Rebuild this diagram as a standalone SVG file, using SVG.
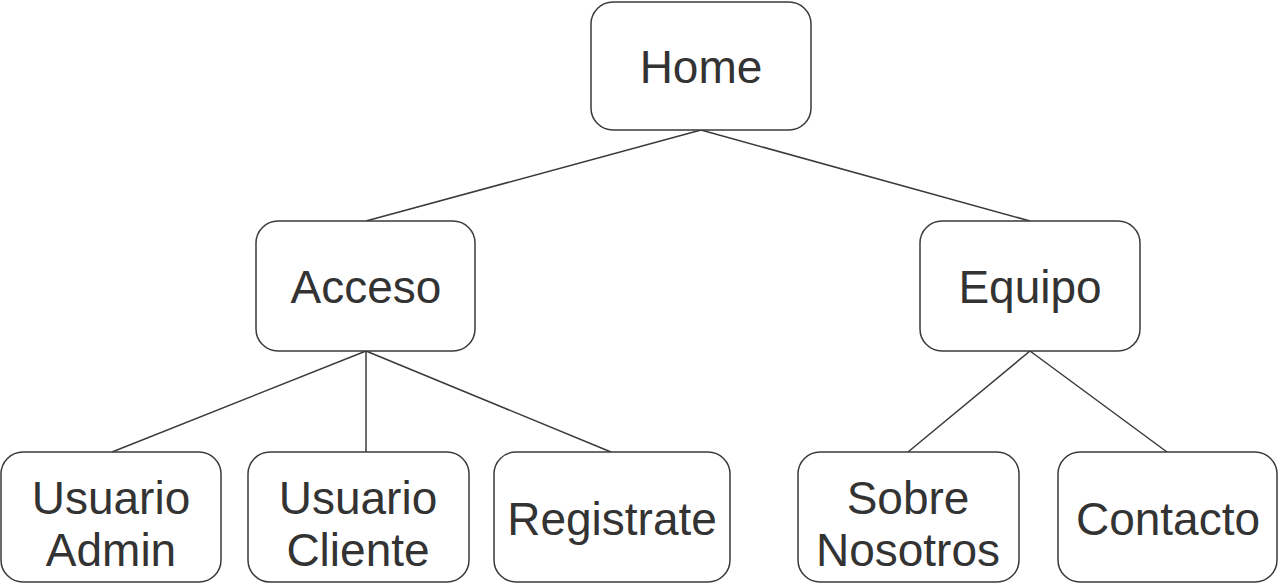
<svg xmlns="http://www.w3.org/2000/svg" width="1280" height="584" viewBox="0 0 1280 584">
<style>
.n{fill:#fff;stroke:#3a3a3a;stroke-width:1.5}
.t{font-family:"Liberation Sans",Arial,sans-serif;font-size:46px;fill:#333;text-anchor:middle}
.c{stroke:#3a3a3a;stroke-width:1.5;fill:none}
</style>
<rect width="1280" height="584" fill="#fff"/>
<g id="connectors">
<line class="c" x1="701" y1="130" x2="366" y2="221"/>
<line class="c" x1="701" y1="130" x2="1030" y2="221"/>
<line class="c" x1="366" y1="351" x2="112" y2="452"/>
<line class="c" x1="366" y1="351" x2="366" y2="452"/>
<line class="c" x1="366" y1="351" x2="611" y2="452"/>
<line class="c" x1="1030" y1="351" x2="908" y2="452"/>
<line class="c" x1="1030" y1="351" x2="1167" y2="452"/>
</g>
<g id="home"><rect class="n" x="591" y="2" width="220" height="128" rx="22"/><text class="t" x="701" y="83">Home</text></g>
<g id="acceso"><rect class="n" x="256" y="221" width="219" height="130" rx="22"/><text class="t" x="366" y="303">Acceso</text></g>
<g id="equipo"><rect class="n" x="920" y="221" width="220" height="130" rx="22"/><text class="t" x="1030" y="303">Equipo</text></g>
<g id="usuario-admin"><rect class="n" x="1" y="452" width="220" height="130" rx="22"/><text class="t" x="111" y="514">Usuario</text><text class="t" x="111" y="566">Admin</text></g>
<g id="usuario-cliente"><rect class="n" x="248" y="452" width="221" height="130" rx="22"/><text class="t" x="358" y="514">Usuario</text><text class="t" x="358" y="566">Cliente</text></g>
<g id="registrate"><rect class="n" x="494" y="452" width="236" height="130" rx="22"/><text class="t" x="612" y="535">Registrate</text></g>
<g id="sobre-nosotros"><rect class="n" x="798" y="452" width="221" height="130" rx="22"/><text class="t" x="908" y="514">Sobre</text><text class="t" x="908" y="566">Nosotros</text></g>
<g id="contacto"><rect class="n" x="1058" y="452" width="219" height="130" rx="22"/><text class="t" x="1168" y="535">Contacto</text></g>
</svg>
